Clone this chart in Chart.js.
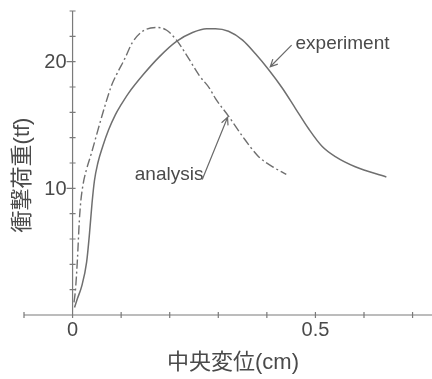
<!DOCTYPE html>
<html>
<head>
<meta charset="utf-8">
<script src="https://cdn.jsdelivr.net/npm/chart.js@4.4.1/dist/chart.umd.min.js"></script>
<style>
  html, body { margin: 0; padding: 0; background: #fff; }
  #wrap { width: 432px; height: 379px; position: relative; }
</style>
</head>
<body>
<div id="wrap"><canvas id="impactChart"></canvas></div>
<script>
// experiment (solid) — displacement cm, load tf
const expX = [0.004, 0.01, 0.019, 0.029, 0.035, 0.04, 0.045, 0.052, 0.062, 0.074, 0.088, 0.1, 0.115, 0.146, 0.179, 0.214, 0.247, 0.276, 0.294, 0.321, 0.35, 0.377, 0.403, 0.432, 0.459, 0.486, 0.514, 0.541, 0.582, 0.646];
const expY = [0.6, 1.3, 2.3, 4.2, 6.5, 8.8, 10.6, 12.0, 13.3, 14.6, 15.8, 16.6, 17.5, 19.0, 20.4, 21.6, 22.3, 22.6, 22.6, 22.4, 21.7, 20.6, 19.4, 17.9, 16.3, 14.7, 13.3, 12.5, 11.7, 10.9];

// analysis (dash-dot)
const anaX = [0.003, 0.006, 0.01, 0.014, 0.017, 0.022, 0.028, 0.039, 0.05, 0.065, 0.08, 0.092, 0.107, 0.123, 0.144, 0.173, 0.193, 0.214, 0.235, 0.261, 0.282, 0.294, 0.321, 0.35, 0.383, 0.412, 0.44];
const anaY = [1.0, 2.0, 4.4, 7.5, 9.0, 10.4, 11.4, 12.8, 14.3, 16.3, 18.1, 19.1, 20.2, 21.5, 22.4, 22.7, 22.5, 21.7, 20.5, 18.9, 17.9, 17.1, 15.7, 14.1, 12.5, 11.7, 11.1];

const xTicks = [-0.1, 0, 0.1, 0.2, 0.3, 0.4, 0.5, 0.6, 0.7];
const xTickLabels = { '0': '0', '0.5': '0.5' };
const yTicks = [0, 2, 4, 6, 8, 10, 12, 14, 16, 18, 20, 22, 24];
const yTickLabels = { '10': '10', '20': '20' };

const xTitle = '中央変位(cm)';
const yTitle = '衝撃荷重(tf)';

// annotation: label, text anchor, arrow tail, arrow head (data coords)
const notes = [
    { text: 'experiment', at: [0.459, 21.4], from: [0.451, 21.3], to: [0.407, 19.6] },
    { text: 'analysis', at: [0.128, 11.1], from: [0.267, 10.7], to: [0.319, 15.6] },
];

const toPoints = (xs, ys) => xs.map((x, i) => ({ x, y: ys[i] }));

const lineColor = '#6f6f6f';
const textColor = '#4a4a4a';
const latin = '"Liberation Sans", Arial, "Noto Sans CJK JP", sans-serif';

const axesPlugin = {
    id: 'axesPlugin',
    beforeDatasetsDraw(chart) {
        const { ctx, scales: { x, y } } = chart;
        const x0 = x.getPixelForValue(0);
        const y0 = y.getPixelForValue(0);
        ctx.save();
        ctx.strokeStyle = '#7a7a7a';
        ctx.lineWidth = 1.2;
        ctx.beginPath();
        ctx.moveTo(x.getPixelForValue(-0.1), y0);
        ctx.lineTo(chart.width, y0);
        ctx.moveTo(x0, y0);
        ctx.lineTo(x0, y.getPixelForValue(24));
        xTicks.forEach((v) => {
            const px = x.getPixelForValue(v);
            ctx.moveTo(px, y0 - 3);
            ctx.lineTo(px, y0 + 3);
        });
        yTicks.forEach((v) => {
            if (v === 0) return;
            const py = y.getPixelForValue(v);
            const major = yTickLabels[String(v)];
            ctx.moveTo(x0 - (major ? 6 : 3), py);
            ctx.lineTo(x0 + 3, py);
        });
        ctx.stroke();

        ctx.fillStyle = textColor;
        ctx.font = `20px ${latin}`;
        ctx.textAlign = 'center';
        ctx.textBaseline = 'top';
        xTicks.forEach((v) => {
            const label = xTickLabels[String(v)];
            if (label) ctx.fillText(label, x.getPixelForValue(v), y0 + 5);
        });
        ctx.textAlign = 'right';
        ctx.textBaseline = 'middle';
        yTicks.forEach((v) => {
            const label = yTickLabels[String(v)];
            if (label) ctx.fillText(label, x0 - 6, y.getPixelForValue(v) + 1);
        });

        ctx.font = `22px ${latin}`;
        ctx.textAlign = 'center';
        ctx.fillText(xTitle, 233, 363);
        ctx.translate(23, 175);
        ctx.rotate(-Math.PI / 2);
        ctx.fillText(yTitle, 0, 0);
        ctx.restore();
    },
    afterDatasetsDraw(chart) {
        const { ctx, scales: { x, y } } = chart;
        ctx.save();
        ctx.fillStyle = textColor;
        ctx.strokeStyle = '#6a6a6a';
        ctx.lineWidth = 1.2;
        ctx.font = `19px ${latin}`;
        ctx.textAlign = 'left';
        ctx.textBaseline = 'middle';
        notes.forEach((n) => {
            ctx.fillText(n.text, x.getPixelForValue(n.at[0]), y.getPixelForValue(n.at[1]));
            const fx = x.getPixelForValue(n.from[0]);
            const fy = y.getPixelForValue(n.from[1]);
            const tx = x.getPixelForValue(n.to[0]);
            const ty = y.getPixelForValue(n.to[1]);
            const a = Math.atan2(ty - fy, tx - fx);
            ctx.beginPath();
            ctx.moveTo(fx, fy);
            ctx.lineTo(tx, ty);
            ctx.moveTo(tx - 8 * Math.cos(a - 0.45), ty - 8 * Math.sin(a - 0.45));
            ctx.lineTo(tx, ty);
            ctx.lineTo(tx - 8 * Math.cos(a + 0.45), ty - 8 * Math.sin(a + 0.45));
            ctx.stroke();
        });
        ctx.restore();
    },
};

new Chart(document.getElementById('impactChart'), {
    type: 'scatter',
    data: {
        datasets: [
            {
                label: 'experiment',
                data: toPoints(expX, expY),
                showLine: true,
                borderColor: lineColor,
                borderWidth: 1.5,
                pointRadius: 0,
                cubicInterpolationMode: 'monotone',
            },
            {
                label: 'analysis',
                data: toPoints(anaX, anaY),
                showLine: true,
                borderColor: lineColor,
                borderWidth: 1.4,
                borderDash: [9, 3, 2, 3],
                pointRadius: 0,
                cubicInterpolationMode: 'monotone',
            },
        ],
    },
    options: {
        responsive: true,
        maintainAspectRatio: false,
        animation: false,
        layout: { padding: { left: 24, right: 0, top: 11, bottom: 64 } },
        plugins: { legend: { display: false }, tooltip: { enabled: false } },
        scales: {
            x: { type: 'linear', display: false, min: -0.1, max: 0.74 },
            y: { type: 'linear', display: false, min: 0, max: 24 },
        },
    },
    plugins: [axesPlugin],
});
</script>
</body>
</html>
